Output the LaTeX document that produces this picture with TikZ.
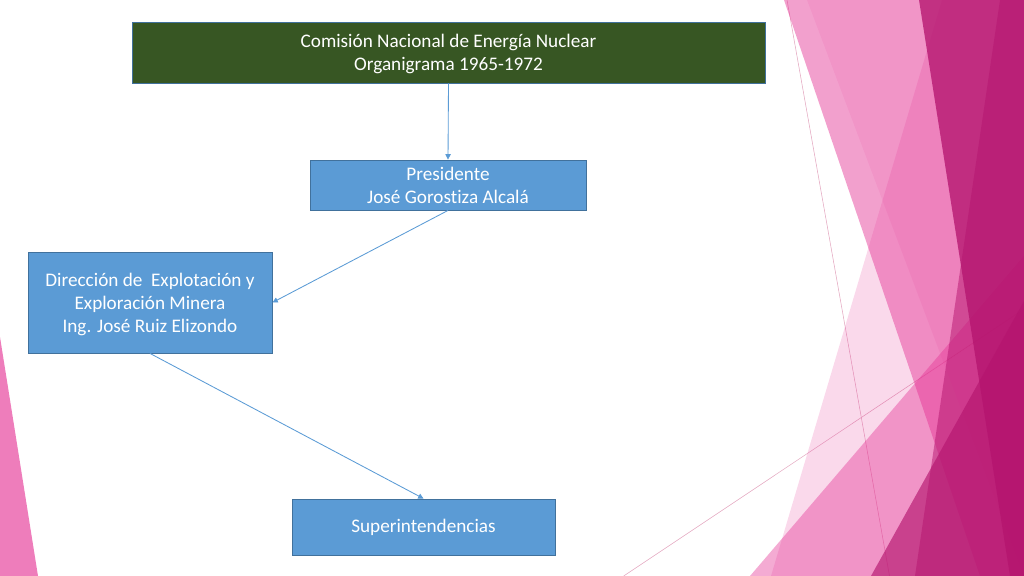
\documentclass[tikz,border=0pt]{standalone}
\usepackage{fontspec}
\setmainfont{Carlito}[Ligatures=NoCommon]
\usetikzlibrary{arrows.meta}

\definecolor{facet}{HTML}{E32D91}
\definecolor{facetdark}{HTML}{B4146E}
\definecolor{boxblue}{HTML}{5B9BD5}
\definecolor{boxedge}{HTML}{41719C}
\definecolor{boxgreen}{HTML}{375623}
\definecolor{thinline}{HTML}{E3A6BF}

\tikzset{
  orgbox/.style={draw=boxedge, line width=0.8pt, fill=boxblue, text=white,
    align=center, inner sep=0pt, font=\fontsize{18}{21.6}\selectfont},
  multiline/.style={text depth=#1},
  orgarrow/.style={draw=boxblue, line width=0.8pt, -{Triangle[width=5pt,length=5pt]}},
  facetline/.style={draw=thinline, line width=0.5pt}
}

\begin{document}
\begin{tikzpicture}[x=0.9375pt, y=-0.9375pt]
  \useasboundingbox (0,0) rectangle (1024,576);

  % facets at the slide edges
  \begin{scope}
    \draw[facetline] (787,0) -- (889.5,576);
    \draw[facetline] (623.7,576) -- (1024,309);
    \fill[facet, fill opacity=.18] (771,576) -- (942,0) -- (1024,0) -- (1024,576) -- cycle;
    \fill[facet, fill opacity=.1] (807,0) -- (1024,0) -- (1024,576) -- cycle;
    \fill[facet, fill opacity=.4] (750,576) -- (1024,256) -- (1024,576) -- cycle;
    \fill[facet, fill opacity=.45] (784,0) -- (1024,0) -- (1024,576) -- (980,576) -- cycle;
    \fill[facetdark, fill opacity=.5] (1000,0) -- (1024,0) -- (1024,576) -- (915,576) -- cycle;
    \fill[facetdark, fill opacity=.77] (919,0) -- (1024,0) -- (1024,576) -- (1010,576) -- cycle;
    \fill[facetdark, fill opacity=.65] (871,576) -- (1024,301) -- (1024,576) -- cycle;
    \fill[facet, fill opacity=.62] (0,337) -- (38,576) -- (0,576) -- cycle;
  \end{scope}

  \node[orgbox, multiline=-1.1pt, fill=boxgreen, minimum width=593.4pt, minimum height=57.2pt]
    (cnen) at (448.5,52.5) {Comisión Nacional de Energía Nuclear\\Organigrama 1965-1972};
  \node[orgbox, multiline=-3.8pt, minimum width=258.8pt, minimum height=46.9pt]
    (presidente) at (448,185) {Presidente\\José Gorostiza Alcalá};
  \node[orgbox, multiline=-1.1pt, minimum width=228.8pt, minimum height=94.7pt]
    (direccion) at (150,302.5) {Dirección de~ Explotación y\\Exploración Minera\\Ing. José Ruiz Elizondo};
  \node[orgbox, minimum width=246.6pt, minimum height=52.5pt]
    (superint) at (423.5,527) {Superintendencias};

  \draw[orgarrow] (cnen.south) -- (presidente.north);
  \draw[orgarrow] (presidente.south) -- (direccion.east);
  \draw[orgarrow] (direccion.south) -- (superint.north);
\end{tikzpicture}
\end{document}
